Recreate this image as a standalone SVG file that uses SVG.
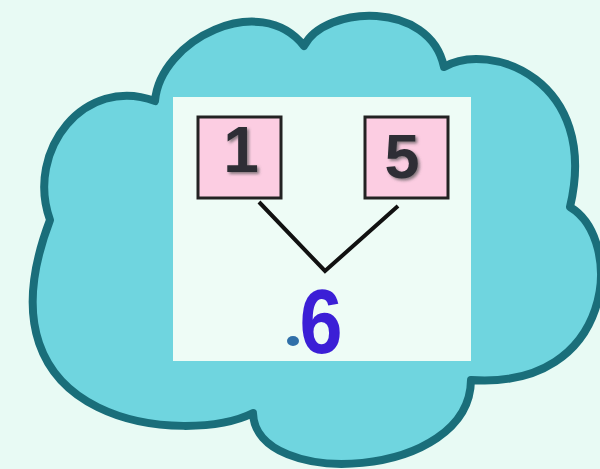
<svg xmlns="http://www.w3.org/2000/svg" width="600" height="469" viewBox="0 0 600 469">
  <defs>
    <filter id="shadow" x="-30%" y="-30%" width="160%" height="160%">
      <feDropShadow dx="2" dy="2" stdDeviation="1.6" flood-color="#555" flood-opacity="0.7"/>
    </filter>
  </defs>
  <style>
    .box { fill: #fccde2; stroke: #222; stroke-width: 3; }
    .num { font-family: "Liberation Sans", Arial, sans-serif; font-weight: bold; text-anchor: middle; fill: #2e2e35; }
    .link { stroke: #111; stroke-width: 4; fill: none; stroke-linecap: butt; stroke-linejoin: miter; }
  </style>
  <rect x="0" y="0" width="600" height="469" fill="#e8faf4"/>
  <g id="cloud">
    <path d="M 155,101 C 160,40 260,-10 304,46 C 325,5 430,0 444,67 C 490,40 600,80 570,207 C 625,240 615,390 471,380 C 470,480 255,490 253,413 C 190,445 -30,430 50,220 C 25,150 85,75 155,101 Z" fill="#6fd5df" stroke="#1a6e7a" stroke-width="8" stroke-linejoin="round"/>
  </g>
  <g id="panel">
    <rect x="173" y="97" width="298" height="264" fill="#eefcf6"/>
  </g>
  <g id="connectors">
    <polyline class="link" points="259,202 325,271 398,206"/>
  </g>
  <g id="node-1">
    <rect class="box" x="198" y="117" width="83" height="81"/>
    <text class="num" x="241" y="172" font-size="64" filter="url(#shadow)">1</text>
  </g>
  <g id="node-5">
    <rect class="box" x="365" y="117" width="83" height="81"/>
    <text class="num" x="402" y="178" font-size="63" filter="url(#shadow)">5</text>
  </g>
  <g id="node-6">
    <ellipse cx="293" cy="341" rx="6" ry="5" fill="#2f6fa8"/>
    <text transform="translate(321,353) scale(0.86,1)" x="0" y="0" font-size="90" font-family="Liberation Sans, Arial, sans-serif" font-weight="bold" text-anchor="middle" fill="#3b1fd6">6</text>
  </g>
</svg>
